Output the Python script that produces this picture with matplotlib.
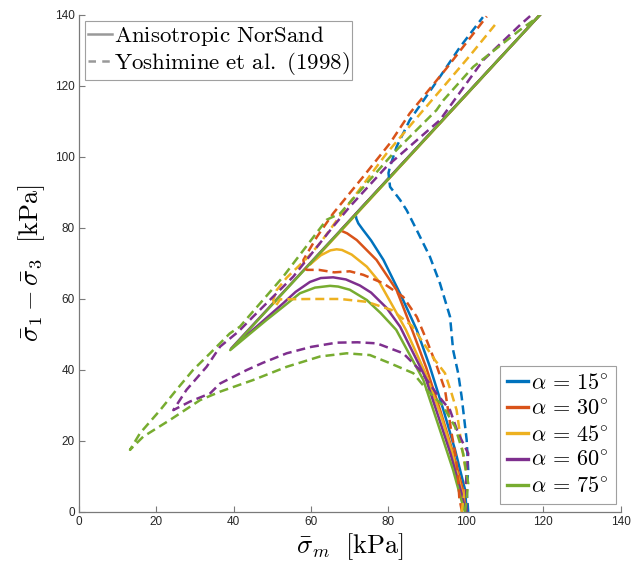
import matplotlib
matplotlib.use("Agg")
import matplotlib.pyplot as plt
from matplotlib.lines import Line2D

plt.rcParams['mathtext.fontset'] = 'cm'
plt.rcParams['font.family'] = ['Liberation Sans', 'DejaVu Sans']

# ---------------- data ----------------
angles = [15, 30, 45, 60, 75]
colors = ['#0072BD', '#D95319', '#EDB120', '#7E2F8E', '#77AC30']

# Anisotropic NorSand (solid)
ns15_x = [100.2, 99.8, 97.2, 94.2, 90.7, 87.3, 83.4, 78.7, 75.5, 73.4, 72.2, 71.7, 71.5, 119.1]
ns15_y = [0.0, 6.2, 17.5, 28.7, 40.9, 51.3, 60.6, 71.0, 76.5, 79.5, 81.3, 82.6, 83.9, 140.0]
ns30_x = [100.0, 99.3, 96.6, 93.4, 89.8, 86.2, 82.1, 76.9, 71.8, 69.3, 67.6, 119.1]
ns30_y = [0.0, 6.0, 17.0, 28.5, 40.5, 51.0, 62.5, 71.0, 76.6, 78.5, 79.3, 140.0]
ns45_x = [100.0, 98.9, 96.4, 93.6, 89.6, 84.5, 81.2, 77.5, 74.4, 70.5, 68.0, 66.6, 65.0, 62.5, 59.7, 119.1]
ns45_y = [0.0, 6.0, 17.0, 27.0, 39.0, 51.3, 57.8, 65.0, 69.1, 72.5, 73.8, 74.0, 73.7, 72.3, 69.7, 140.0]
ns60_x = [100.0, 98.8, 96.0, 93.0, 89.5, 83.0, 79.5, 75.5, 72.6, 69.0, 65.7, 62.5, 59.7, 56.0, 52.8, 45.9, 39.3, 119.1]
ns60_y = [0.0, 5.5, 16.5, 26.5, 38.0, 52.2, 57.5, 61.8, 63.8, 65.5, 66.1, 65.9, 64.8, 62.0, 58.8, 52.2, 46.0, 140.0]
ns75_x = [99.8, 99.3, 96.7, 93.3, 89.0, 82.0, 78.0, 74.4, 70.0, 67.0, 64.9, 61.0, 57.1, 53.0, 48.5, 39.1, 119.1]
ns75_y = [0.0, 1.5, 11.8, 23.1, 37.2, 51.3, 56.0, 59.7, 62.6, 63.5, 63.7, 63.2, 61.6, 58.0, 54.1, 45.6, 140.0]

# Yoshimine et al. (1998) (dashed)
yo15_x = [100.6, 100.2, 100.6, 100.2, 98.9, 98.0, 96.7, 95.9, 93.3, 90.7, 87.3, 84.7, 83.0, 80.4, 80.0, 80.4, 82.1, 85.5, 87.3, 93.3, 98.5, 104.4]
yo15_y = [0.0, 6.2, 11.8, 20.3, 32.5, 39.1, 45.6, 55.0, 64.4, 71.9, 79.4, 85.0, 87.9, 91.6, 95.5, 97.3, 102.9, 110.4, 113.2, 122.6, 131.0, 139.4]
yo30_x = [99.0, 98.3, 98.0, 97.4, 96.3, 94.6, 92.5, 90.0, 87.3, 83.8, 78.7, 73.5, 70.0, 66.0, 62.0, 58.9, 58.4, 58.0, 61.5, 65.7, 73.5, 80.4, 85.5, 95.0, 105.4]
yo30_y = [0.0, 4.0, 9.0, 15.6, 22.2, 34.4, 41.0, 48.0, 55.0, 60.6, 64.4, 66.8, 67.8, 67.5, 68.2, 68.2, 68.6, 71.0, 77.5, 84.1, 94.5, 103.9, 112.3, 125.0, 139.6]
yo45_x = [98.9, 100.2, 99.0, 97.6, 96.3, 94.6, 92.0, 89.4, 86.0, 80.8, 74.4, 67.5, 60.0, 52.0, 50.7, 50.2, 51.1, 53.7, 59.2, 62.3, 71.8, 79.5, 89.0, 94.6, 101.0, 107.5]
yo45_y = [0.0, 10.0, 18.0, 28.7, 33.4, 39.1, 42.8, 47.0, 52.5, 56.9, 59.2, 60.0, 60.0, 59.9, 57.8, 59.7, 62.5, 66.0, 71.8, 75.7, 89.8, 101.0, 113.2, 120.3, 128.5, 137.2]
yo60_x = [100.2, 100.0, 100.6, 98.0, 95.9, 92.4, 88.1, 83.8, 77.0, 72.0, 66.6, 60.0, 53.7, 47.5, 43.4, 36.5, 33.9, 28.7, 24.4, 27.8, 33.0, 36.5, 41.2, 45.0, 55.4, 65.7, 70.0, 79.5, 93.3, 104.5, 114.0, 116.6]
yo60_y = [0.0, 8.0, 16.5, 22.2, 28.7, 33.4, 40.0, 44.7, 47.5, 47.8, 47.7, 46.5, 44.7, 42.0, 40.0, 36.2, 33.4, 31.1, 28.7, 34.4, 40.9, 46.6, 50.8, 55.0, 66.3, 80.4, 86.0, 97.3, 110.4, 127.3, 137.2, 139.7]
yo75_x = [99.8, 100.6, 99.3, 97.2, 94.0, 89.9, 86.4, 80.4, 75.2, 69.2, 62.3, 53.7, 45.1, 36.5, 31.3, 23.5, 16.6, 13.2, 15.8, 21.0, 25.2, 29.5, 33.9, 39.0, 41.6, 52.8, 64.0, 67.5, 81.2, 92.4, 94.2, 101.9, 114.0, 118.7]
yo75_y = [0.0, 8.0, 16.5, 24.0, 30.0, 34.4, 39.1, 41.9, 44.2, 44.7, 43.8, 40.9, 37.2, 33.9, 31.5, 25.9, 21.2, 17.5, 22.2, 28.7, 34.4, 40.0, 44.7, 50.3, 52.2, 66.3, 82.3, 84.1, 101.0, 113.2, 116.0, 125.4, 135.8, 139.5]

x_ticks = [0, 20, 40, 60, 80, 100, 120, 140]
y_ticks = [0, 20, 40, 60, 80, 100, 120, 140]

ns_x = [ns15_x, ns30_x, ns45_x, ns60_x, ns75_x]
ns_y = [ns15_y, ns30_y, ns45_y, ns60_y, ns75_y]
yo_x = [yo15_x, yo30_x, yo45_x, yo60_x, yo75_x]
yo_y = [yo15_y, yo30_y, yo45_y, yo60_y, yo75_y]

# ---------------- figure ----------------
fig = plt.figure(figsize=(6.42, 5.70), dpi=100)
ax = fig.add_axes([0.1229, 0.1018, 0.8439, 0.8719])

handles = []
for i, a in enumerate(angles):
    h, = ax.plot(ns_x[i], ns_y[i], '-', color=colors[i], lw=1.8,
                 label=r'$\alpha\,=\,%d^{\circ}$' % a, solid_joinstyle='round')
    handles.append(h)
for i, a in enumerate(angles):
    ax.plot(yo_x[i], yo_y[i], color=colors[i], lw=1.8, dashes=(3.6, 2.0),
            dash_capstyle='butt')

ax.set_xlim(0, 140)
ax.set_ylim(0, 140)
ax.set_xticks(x_ticks)
ax.set_yticks(y_ticks)
ax.tick_params(direction='in', length=4, width=0.8, color='#7a7a7a',
               labelsize=8.5, labelcolor='#262626', pad=3)
for s in ['top', 'right']:
    ax.spines[s].set_visible(False)
for s in ['left', 'bottom']:
    ax.spines[s].set_color('#7a7a7a')
    ax.spines[s].set_linewidth(0.9)

ax.set_xlabel(r'$\bar{\sigma}_m\ \ [\mathrm{kPa}]$', fontsize=19, labelpad=2)
ax.set_ylabel(r'$\bar{\sigma}_1 - \bar{\sigma}_3\ \ [\mathrm{kPa}]$', fontsize=19, labelpad=6)

# legend for model vs experiment
g1 = Line2D([], [], color='#999999', lw=1.8, ls='-')
g2 = Line2D([], [], color='#999999', lw=1.8, dashes=(3, 2.5))
leg1 = ax.legend([g1, g2], [r'$\mathrm{Anisotropic\ NorSand}$', r'$\mathrm{Yoshimine\ et\ al.\ (1998)}$'],
                 loc='upper left', bbox_to_anchor=(0.011, 0.988), borderaxespad=0,
                 fontsize=16.5, handlelength=1.05, handletextpad=0.1, borderpad=0.12,
                 labelspacing=0.1, fancybox=False, framealpha=1, edgecolor='#a0a0a0')
leg1.get_frame().set_linewidth(0.8)
ax.add_artist(leg1)

leg2 = ax.legend(handles=handles, loc='lower right', bbox_to_anchor=(0.991, 0.016),
                 borderaxespad=0, fontsize=16, handlelength=0.95, handletextpad=0.15,
                 borderpad=0.3, labelspacing=0.22, fancybox=False, framealpha=1,
                 edgecolor='#a0a0a0')
leg2.get_frame().set_linewidth(0.8)
for l in leg2.get_lines():
    l.set_linewidth(2.4)

fig.savefig('out.png', dpi=100)
